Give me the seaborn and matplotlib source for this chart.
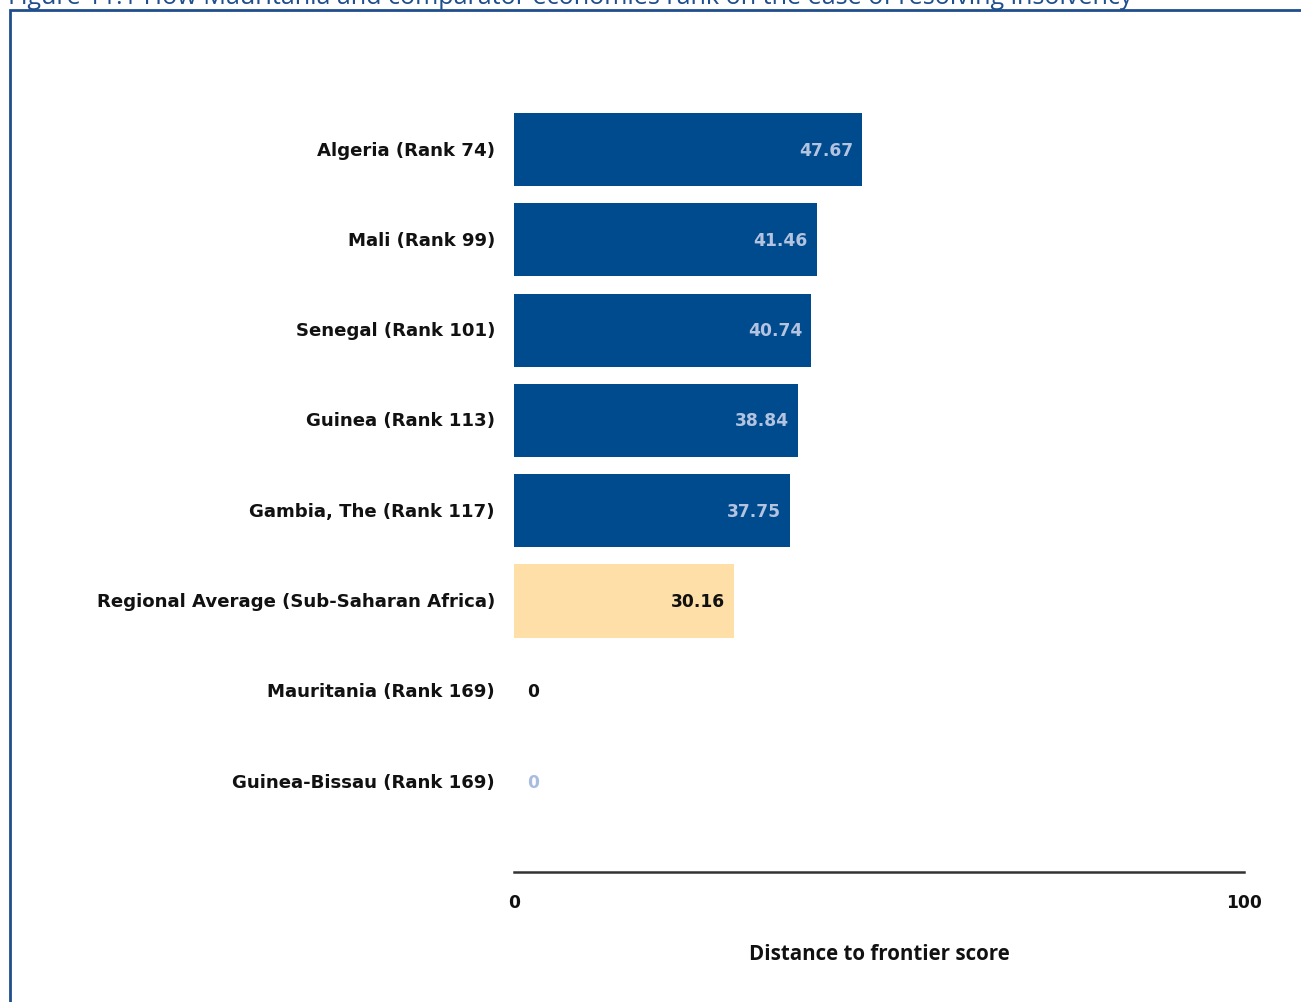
import matplotlib
matplotlib.use("Agg")
import matplotlib.pyplot as plt
import matplotlib.patches as mpatches
import seaborn as sns
import pandas as pd

categories = ["Algeria (Rank 74)", "Mali (Rank 99)", "Senegal (Rank 101)",
              "Guinea (Rank 113)", "Gambia, The (Rank 117)",
              "Regional Average (Sub-Saharan Africa)",
              "Mauritania (Rank 169)", "Guinea-Bissau (Rank 169)"]
scores = [47.67, 41.46, 40.74, 38.84, 37.75, 30.16, 0, 0]
value_labels = ["47.67", "41.46", "40.74", "38.84", "37.75", "30.16", "0", "0"]
bar_colors = ["#004B8D"] * 5 + ["#FFDFA8", "#004B8D", "#004B8D"]
label_colors = ["#B3C3E0"] * 5 + ["#111111", "#111111", "#A9BCE0"]
x_ticks = [0, 100]
title = "Figure 11.1 How Mauritania and comparator economies rank on the ease of resolving insolvency"
x_label = "Distance to frontier score"

df = pd.DataFrame({"category": categories, "score": scores})

sns.set_theme(style="white")
plt.rcParams['font.family'] = ['DejaVu Sans']

LBL_FONT = dict(family="DejaVu Sans", fontweight="bold", fontsize=12.3)

fig = plt.figure(figsize=(13.01, 10.03), dpi=100)
ax = fig.add_axes([514/1301, 130/1003, 730/1301, (873-69)/1003])

sns.barplot(data=df, x="score", y="category", hue="category",
            palette=bar_colors, legend=False, width=0.81, ax=ax,
            saturation=1, edgecolor="none")

ax.set_xlim(0, 100)
ax.set_ylim(8.0, -0.9025)
for i, (v, lab, c) in enumerate(zip(scores, value_labels, label_colors)):
    if v > 0:
        ax.annotate(lab, (v, i), xytext=(-6.5, 0), textcoords="offset points",
                    ha="right", va="center", color=c, **LBL_FONT)
    else:
        ax.annotate(lab, (v, i), xytext=(9.4, 0), textcoords="offset points",
                    ha="left", va="center", color=c, **LBL_FONT)

ax.set_xticks(x_ticks)
ax.set_xticklabels([str(t) for t in x_ticks])
for lbl in ax.get_xticklabels():
    lbl.set_fontfamily("DejaVu Sans")
    lbl.set_fontsize(12.3)
    lbl.set_fontweight("bold")
    lbl.set_color("#111111")
ax.tick_params(axis="x", length=0, pad=15)
ax.tick_params(axis="y", length=0, pad=13.7)
for lbl in ax.get_yticklabels():
    lbl.set_fontfamily("DejaVu Sans")
    lbl.set_fontsize(13.1)
    lbl.set_fontweight("bold")
    lbl.set_color("#111111")
    lbl.set_va("center")
ax.set_ylabel("")
ax.set_xlabel(x_label, fontsize=14.8, fontweight="bold", labelpad=23,
              family="Open Sans", color="#111111")

for s in ["top", "right", "left"]:
    ax.spines[s].set_visible(False)
ax.spines["bottom"].set_color("#333333")
ax.spines["bottom"].set_linewidth(1.8)

# frame and (cut-off) figure title
fig.patches.append(mpatches.Rectangle((10/1301, -0.05), 1.2, 1 - 11/1003 + 0.05,
                                      transform=fig.transFigure, fill=False,
                                      edgecolor="#1F4E8C", linewidth=2))
fig.text(8/1301, 1 - 4/1003, title, ha="left", va="baseline", fontsize=18.1,
         color="#1F4E8C", family="Open Sans")

fig.savefig("out.png", dpi=100)
